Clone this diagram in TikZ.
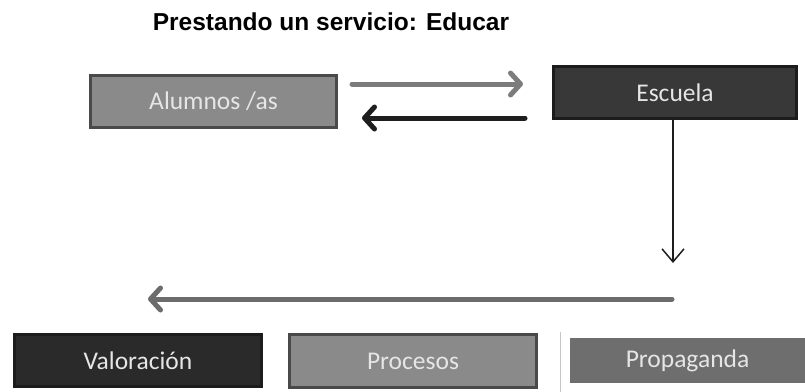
\documentclass[tikz,border=0pt]{standalone}
\usepackage{fontspec}
\setmainfont{Carlito}
\newfontfamily\titlefont{Liberation Sans}
\usetikzlibrary{arrows.meta,calc}
\definecolor{boxmid}{HTML}{8A8A8A}
\definecolor{boxmidline}{HTML}{4A4A4A}
\definecolor{boxdark}{HTML}{383838}
\definecolor{boxdarker}{HTML}{2A2A2A}
\definecolor{boxline}{HTML}{1C1C1C}
\definecolor{boxprop}{HTML}{6E6E6E}
\definecolor{txt}{HTML}{E6E6E6}
\definecolor{arrgray}{HTML}{7C7C7C}
\definecolor{arrdark}{HTML}{1E1E1E}
\definecolor{arrlong}{HTML}{6C6C6C}
\tikzset{
  box/.style={rectangle, inner sep=0pt, text=txt, font=\fontsize{25.5}{28}\selectfont, line width=3pt},
  fat/.style={line width=5pt, line cap=round, -{Straight Barb[length=10pt,width=22pt,line cap=round,line join=round]}},
  thin/.style={line width=1.5pt, arrdark, -{Straight Barb[length=13pt,width=22pt]}}
}
\begin{document}
\begin{tikzpicture}[x=1pt,y=-1pt]
\useasboundingbox (0,0) rectangle (805,391);
\fill[white] (0,0) rectangle (805,391);
\node[font=\titlefont\bfseries\fontsize{24.5}{28}\selectfont, text=black] (title) at (331,22) {Prestando un servicio: Educar};
\node[box, fill=boxmid, draw=boxmidline, minimum width=246pt, minimum height=52pt] (alum) at (213.5,101.5) {Alumnos /as};
\node[box, fill=boxdark, draw=boxline, minimum width=243pt, minimum height=52pt] (esc) at (675,92.5) {Escuela};
\node[box, fill=boxdarker, draw=boxline, minimum width=247pt, minimum height=52pt] (val) at (138,360.5) {Valoración};
\node[box, fill=boxmid, draw=boxline!80!white, minimum width=247pt, minimum height=53pt] (proc) at (413,361) {Procesos};
\node[box, fill=boxprop, draw=none, minimum width=235pt, minimum height=45pt] (prop) at (687.5,360.5) {Propaganda};
\draw[gray!45, line width=1pt] ([xshift=-8pt,yshift=5pt]prop.north west) -- ([xshift=-8pt,yshift=-7pt]prop.south west);
\draw[fat, arrgray] ($(alum.east)+(14,-17.5)$) -- ($(esc.west)+(-29,-8.5)$);
\draw[fat, arrdark] ($(esc.west)+(-27,25.5)$) -- ($(alum.east)+(24,16.5)$);
\coordinate (vend) at (673,263);
\draw[thin] ([xshift=-2pt]esc.south) -- (vend);
\coordinate (lstart) at (672,299);
\coordinate (lend) at (148,299);
\draw[fat, arrlong] (lstart) -- (lend);
\end{tikzpicture}
\end{document}
